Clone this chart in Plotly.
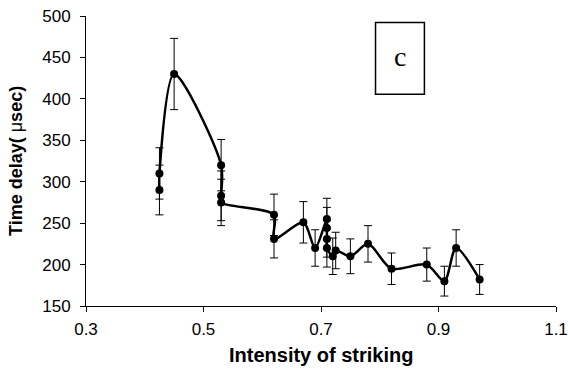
import plotly.graph_objects as go

intensity = [0.425, 0.425, 0.45, 0.53, 0.53, 0.53, 0.62, 0.62, 0.67, 0.69,
             0.71, 0.71, 0.71, 0.71, 0.72, 0.725, 0.75, 0.78, 0.82, 0.88,
             0.91, 0.93, 0.97]
time_delay = [290, 310, 430, 320, 283, 275, 260, 231, 251, 220,
              255, 244, 231, 220, 210, 217, 210, 225, 195, 200,
              180, 220, 182]
error = [30, 31, 43, 31, 30, 28, 25, 23, 25, 22,
         25, 25, 22, 23, 22, 22, 21, 22, 19, 20,
         18, 22, 18]

x_ticks = [0.3, 0.5, 0.7, 0.9, 1.1]
x_tick_labels = ["0.3", "0.5", "0.7", "0.9", "1.1"]
y_ticks = [150, 200, 250, 300, 350, 400, 450, 500]

fig = go.Figure()
fig.add_trace(go.Scatter(
    x=intensity, y=time_delay,
    mode="lines+markers",
    line=dict(color="black", width=2.5, shape="spline", smoothing=0.8),
    marker=dict(color="black", size=8, symbol="circle"),
    error_y=dict(type="data", array=error, visible=True,
                 color="black", thickness=1, width=4),
    showlegend=False,
))

font_family = "Liberation Sans"

fig.update_layout(
    width=568, height=379,
    margin=dict(l=86, r=12, t=16, b=73),
    paper_bgcolor="white", plot_bgcolor="white",
    font=dict(family=font_family, size=17, color="black"),
    xaxis=dict(
        range=[0.3, 1.1], tickvals=x_ticks, ticktext=x_tick_labels,
        showgrid=False, zeroline=False, showline=True, automargin=False,
        linecolor="black", linewidth=1,
        ticks="outside", ticklen=5, tickcolor="black", tickwidth=1,
        ticklabelstandoff=3,
    ),
    yaxis=dict(
        range=[150, 500], tickvals=y_ticks,
        showgrid=False, zeroline=False, showline=True, automargin=False,
        linecolor="black", linewidth=1,
        ticks="outside", ticklen=5, tickcolor="black", tickwidth=1,
        ticklabelstandoff=6,
    ),
    shapes=[dict(type="rect", xref="paper", yref="paper",
                 x0=0.616, x1=0.720, y0=0.730, y1=0.978,
                 line=dict(color="black", width=1.5),
                 fillcolor="white", layer="above")],
    annotations=[
        dict(text="c", xref="paper", yref="paper",
             x=0.668, y=0.86, xanchor="center", yanchor="middle",
             showarrow=False,
             font=dict(family="Liberation Serif", size=28, color="black")),
        dict(text="<b>Intensity of striking</b>", xref="paper", yref="paper",
             x=0.501, y=-0.168, xanchor="center", yanchor="middle",
             showarrow=False, font=dict(family=font_family, size=20)),
        dict(text="<b>Time delay( </b>μ<b>sec)</b>", xref="paper", yref="paper",
             x=-0.149, y=0.5, xanchor="center", yanchor="middle",
             textangle=-90, showarrow=False,
             font=dict(family=font_family, size=18)),
    ],
)

# remove the default 8px page margin so the figure fills the window exactly
fig.write_html("out.html", config={"displayModeBar": False},
               post_script="document.body.style.margin='0';")
